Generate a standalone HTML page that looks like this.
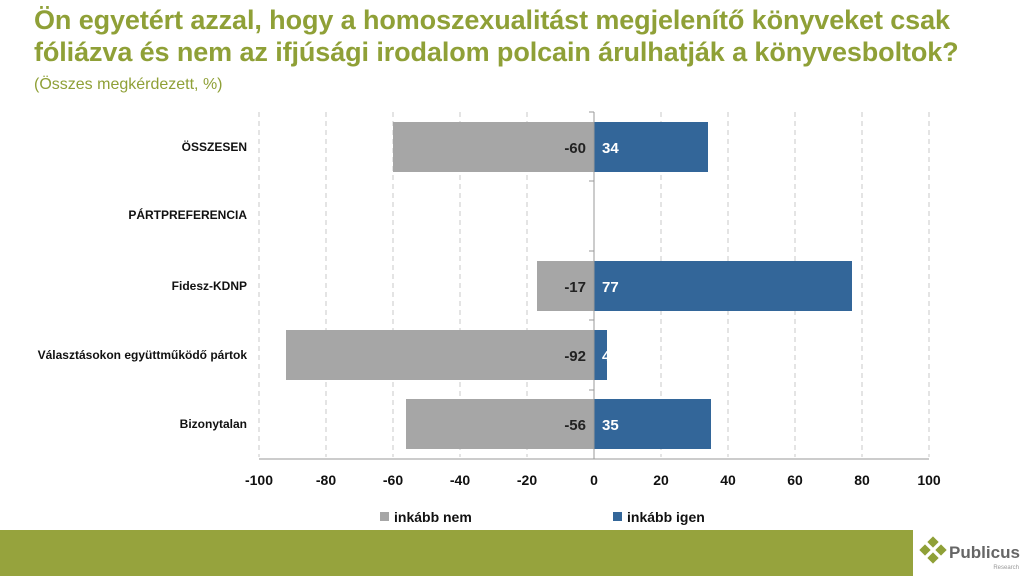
<!DOCTYPE html>
<html><head><meta charset="utf-8"><style>
body{margin:0;width:1024px;height:576px;overflow:hidden;background:#fff;font-family:"Liberation Sans",sans-serif;position:relative}
.t{position:absolute;left:34px;top:4px;font-size:27px;font-weight:bold;color:#8fa037;line-height:32px;letter-spacing:-0.1px;white-space:nowrap}
.s{position:absolute;left:34px;top:76px;font-size:16px;color:#8fa037}
</style></head><body>
<div class="t">Ön egyetért azzal, hogy a homoszexualitást megjelenítő könyveket csak<br>fóliázva és nem az ifjúsági irodalom polcain árulhatják a könyvesboltok?</div>
<div class="s">(Összes megkérdezett, %)</div>
<svg width="1024" height="576" style="position:absolute;left:0;top:0" font-family="Liberation Sans, sans-serif">
<g stroke="#c8c8c8" stroke-dasharray="5,4" stroke-width="1">
<line x1="259" y1="112" x2="259" y2="457"/><line x1="326" y1="112" x2="326" y2="457"/><line x1="393" y1="112" x2="393" y2="457"/><line x1="460" y1="112" x2="460" y2="457"/><line x1="527" y1="112" x2="527" y2="457"/><line x1="661" y1="112" x2="661" y2="457"/><line x1="728" y1="112" x2="728" y2="457"/><line x1="795" y1="112" x2="795" y2="457"/><line x1="862" y1="112" x2="862" y2="457"/><line x1="929" y1="112" x2="929" y2="457"/>
</g>
<g fill="#a6a6a6">
<rect x="393" y="122" width="201" height="50"/>
<rect x="537" y="261" width="57" height="50"/>
<rect x="286" y="330" width="308" height="50"/>
<rect x="406" y="399" width="188" height="50"/>
</g>
<g fill="#336699">
<rect x="594" y="122" width="114" height="50"/>
<rect x="594" y="261" width="258" height="50"/>
<rect x="594" y="330" width="13" height="50"/>
<rect x="594" y="399" width="117" height="50"/>
</g>
<g stroke="#999" stroke-width="1">
<line x1="594" y1="112" x2="594" y2="459"/>
<line x1="589" y1="112" x2="594" y2="112"/><line x1="589" y1="181" x2="594" y2="181"/><line x1="589" y1="251" x2="594" y2="251"/><line x1="589" y1="320" x2="594" y2="320"/><line x1="589" y1="390" x2="594" y2="390"/>
<line x1="259" y1="459" x2="929" y2="459"/>
</g>
<g font-size="15" font-weight="bold" fill="#222" text-anchor="end">
<text x="586" y="153">-60</text><text x="586" y="292">-17</text><text x="586" y="361">-92</text><text x="586" y="430">-56</text>
</g>
<g font-size="15" font-weight="bold" fill="#fff">
<text x="602" y="153">34</text><text x="602" y="292">77</text><text x="602" y="361">4</text><text x="602" y="430">35</text>
</g>
<g font-size="12" font-weight="bold" fill="#111" text-anchor="end">
<text x="247" y="151">ÖSSZESEN</text><text x="247" y="219">PÁRTPREFERENCIA</text><text x="247" y="290">Fidesz-KDNP</text><text x="247" y="359">Választásokon együttműködő pártok</text><text x="247" y="428">Bizonytalan</text>
</g>
<g font-size="14" font-weight="bold" fill="#111" text-anchor="middle">
<text x="259" y="485">-100</text><text x="326" y="485">-80</text><text x="393" y="485">-60</text><text x="460" y="485">-40</text><text x="527" y="485">-20</text><text x="594" y="485">0</text><text x="661" y="485">20</text><text x="728" y="485">40</text><text x="795" y="485">60</text><text x="862" y="485">80</text><text x="929" y="485">100</text>
</g>
<rect x="380" y="512" width="9" height="9" fill="#a6a6a6"/>
<text x="394" y="522" font-size="14" font-weight="bold" fill="#111">inkább nem</text>
<rect x="613" y="512" width="9" height="9" fill="#336699"/>
<text x="627" y="522" font-size="14" font-weight="bold" fill="#111">inkább igen</text>
<rect x="0" y="530" width="913" height="46" fill="#96a33d"/>
<g fill="#8fa037">
<rect x="929" y="538" width="8" height="8" transform="rotate(45 933 542)"/>
<rect x="937" y="546" width="8" height="8" transform="rotate(45 941 550)"/>
<rect x="921" y="546" width="8" height="8" transform="rotate(45 925 550)"/>
<rect x="929" y="554" width="8" height="8" transform="rotate(45 933 558)"/>
</g>
<text x="949" y="558" font-size="17" font-weight="bold" fill="#666" textLength="71" lengthAdjust="spacingAndGlyphs">Publicus</text>
<text x="1019" y="569" font-size="6" fill="#999" text-anchor="end">Research</text>
</svg>
</body></html>
